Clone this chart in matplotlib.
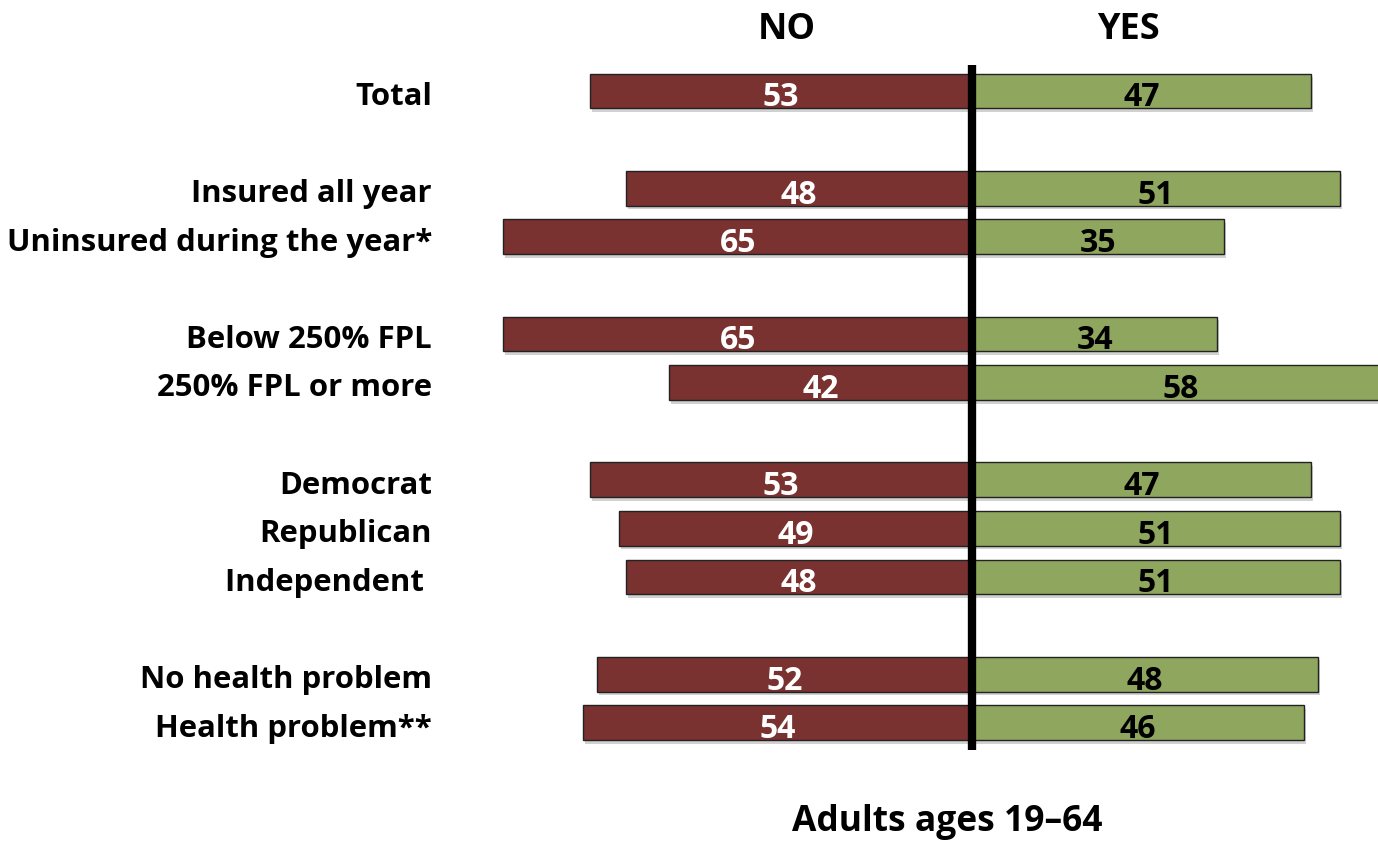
import matplotlib
matplotlib.use("Agg")
import matplotlib.pyplot as plt
import matplotlib.patheffects as pe

categories = ["Total", "Insured all year", "Uninsured during the year*",
              "Below 250% FPL", "250% FPL or more",
              "Democrat", "Republican", "Independent ",
              "No health problem", "Health problem**"]
row_pos = [0, 2, 3, 5, 6, 8, 9, 10, 12, 13]
no_vals = [53, 48, 65, 65, 42, 53, 49, 48, 52, 54]
yes_vals = [47, 51, 35, 34, 58, 47, 51, 51, 48, 46]

W, H = 1378, 841
fig = plt.figure(figsize=(W / 100, H / 100), dpi=100)
ax = fig.add_axes([0, 0, 1, 1])
ax.set_axis_off()

cx = 972.0      # pixel of zero line
ux = 7.21       # px per unit
y0 = 91.0       # pixel of first row
uy = 48.6       # px per row unit
ax.set_xlim(-cx / ux, (W - cx) / ux)
ax.set_ylim((H - y0) / uy, -y0 / uy)

font = "Open Sans"
red = "#7A3230"
green = "#8FA65E"
shadow = [pe.SimplePatchShadow(offset=(1.5, -2.5), shadow_rgbFace="#999999", alpha=0.45), pe.Normal()]

bh = 0.72
ax.barh(row_pos, [-v for v in no_vals], height=bh, color=red, edgecolor="#222222",
        linewidth=1.0, path_effects=shadow, zorder=2)
ax.barh(row_pos, yes_vals, height=bh, color=green, edgecolor="#222222",
        linewidth=1.0, path_effects=shadow, zorder=2)

for y, n, v, lab in zip(row_pos, no_vals, yes_vals, categories):
    ax.text(-n / 2, y + 0.14, str(n), ha="center", va="center", color="white",
            fontsize=23, fontweight="bold", family=font, zorder=4)
    ax.text(v / 2, y + 0.14, str(v), ha="center", va="center", color="black",
            fontsize=23, fontweight="bold", family=font, zorder=4)
    ax.text((432 - cx) / ux, y + 0.12, lab, ha="right", va="center", color="black",
            fontsize=22.4, fontweight="bold", family=font)

ax.plot([0, 0], [(65 - y0) / uy, (750 - y0) / uy], color="black", linewidth=6,
        solid_capstyle="butt", zorder=5)

ax.text((787 - cx) / ux, (30 - y0) / uy, "NO", ha="center", va="center",
        fontsize=26, fontweight="bold", family=font)
ax.text((1128 - cx) / ux, (30 - y0) / uy, "YES", ha="center", va="center",
        fontsize=26, fontweight="bold", family=font)
ax.text((947 - cx) / ux, (822 - y0) / uy, "Adults ages 19\u201364", ha="center", va="center",
        fontsize=25.5, fontweight="bold", family=font)

fig.savefig("out.png", dpi=100, facecolor="white")
